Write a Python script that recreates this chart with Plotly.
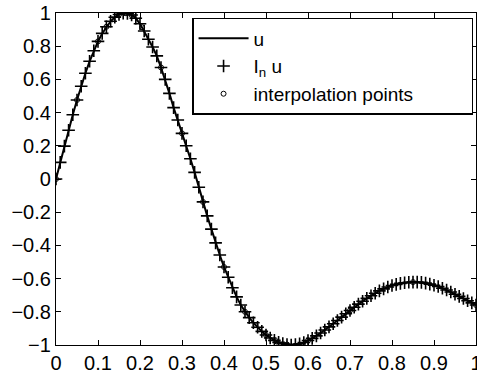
import plotly.graph_objects as go

# x positions of the plotted samples (step 0.01)
x_vals = [i / 100 for i in range(101)]
# u values
u_vals = [
    0.000, 0.100, 0.198, 0.294, 0.387, 0.476, 0.559, 0.637, 0.709, 0.773,
    0.829, 0.877, 0.917, 0.950, 0.974, 0.991, 0.999, 0.998, 0.988, 0.968,
    0.935, 0.892, 0.842, 0.795, 0.742, 0.672, 0.600, 0.516, 0.430, 0.355,
    0.275, 0.200, 0.122, 0.040, -0.050, -0.138, -0.222, -0.302, -0.385, -0.458,
    -0.530, -0.592, -0.655, -0.710, -0.759, -0.800, -0.835, -0.866, -0.893, -0.918,
    -0.940, -0.958, -0.972, -0.984, -0.992, -0.997, -1.000, -0.998, -0.993, -0.985,
    -0.973, -0.960, -0.945, -0.928, -0.910, -0.891, -0.872, -0.852, -0.832, -0.812,
    -0.792, -0.773, -0.754, -0.736, -0.719, -0.703, -0.688, -0.674, -0.662, -0.651,
    -0.642, -0.635, -0.629, -0.625, -0.622, -0.621, -0.621, -0.623, -0.627, -0.633,
    -0.640, -0.648, -0.658, -0.669, -0.681, -0.694, -0.707, -0.720, -0.733, -0.746,
    -0.759,
]
# interpolant values I_n u at the same samples (visually identical to u)
inu_vals = list(u_vals)

# interpolation points
ip_x = [0.0, 0.05, 0.10, 0.12, 0.135, 0.15, 0.165, 0.18, 0.205, 0.25, 0.30,
        0.35, 0.40, 0.45, 0.475, 0.50, 0.525, 0.55, 0.60, 0.70, 0.85, 1.0]
ip_y = [0.000, 0.476, 0.829, 0.917, 0.962, 0.991, 0.999, 0.988, 0.914, 0.672, 0.275,
        -0.138, -0.530, -0.800, -0.880, -0.940, -0.978, -0.997, -0.973, -0.792, -0.621, -0.759]

x_ticks = [i / 10 for i in range(11)]
y_ticks = [-1, -0.8, -0.6, -0.4, -0.2, 0, 0.2, 0.4, 0.6, 0.8, 1]

FONT = dict(family="Liberation Sans, Arial, Helvetica, sans-serif", size=20, color="black")
LEGEND_FONT = dict(family="Liberation Sans, Arial, Helvetica, sans-serif", size=19, color="black")

PAD = "\u00a0" * 10  # right padding inside the legend box

fig = go.Figure()
fig.add_trace(go.Scatter(x=x_vals, y=u_vals, mode="lines", name="u",
                         line=dict(color="black", width=2)))
fig.add_trace(go.Scatter(x=x_vals, y=inu_vals, mode="markers", name="I<sub>n</sub> u",
                         marker=dict(symbol="cross-thin", size=9, color="black",
                                     line=dict(color="black", width=1.6))))
fig.add_trace(go.Scatter(x=ip_x, y=ip_y, mode="markers", name="interpolation points" + PAD,
                         marker=dict(symbol="circle-open", size=5, color="black",
                                     line=dict(color="black", width=1))))

axis_common = dict(showgrid=False, zeroline=False, showline=True, linecolor="black",
                   linewidth=1.2, mirror="allticks", ticks="inside", ticklen=5,
                   tickwidth=1, tickcolor="black", tickfont=FONT,
                   ticklabeloverflow="allow", automargin=False)

fig.update_xaxes(range=[0, 1], tickvals=x_ticks, **axis_common)
fig.update_yaxes(range=[-1, 1], tickvals=y_ticks, ticklabelstandoff=0, **axis_common)

fig.update_layout(
    width=477, height=374,
    margin=dict(l=56, r=1, t=13, b=29, autoexpand=False),
    plot_bgcolor="white", paper_bgcolor="white",
    font=FONT,
    legend=dict(x=0.993, y=0.985, xanchor="right", yanchor="top",
                bgcolor="white", bordercolor="black", borderwidth=1.5,
                font=LEGEND_FONT, tracegroupgap=0, itemwidth=50),
)

fig.write_html("out.html")
